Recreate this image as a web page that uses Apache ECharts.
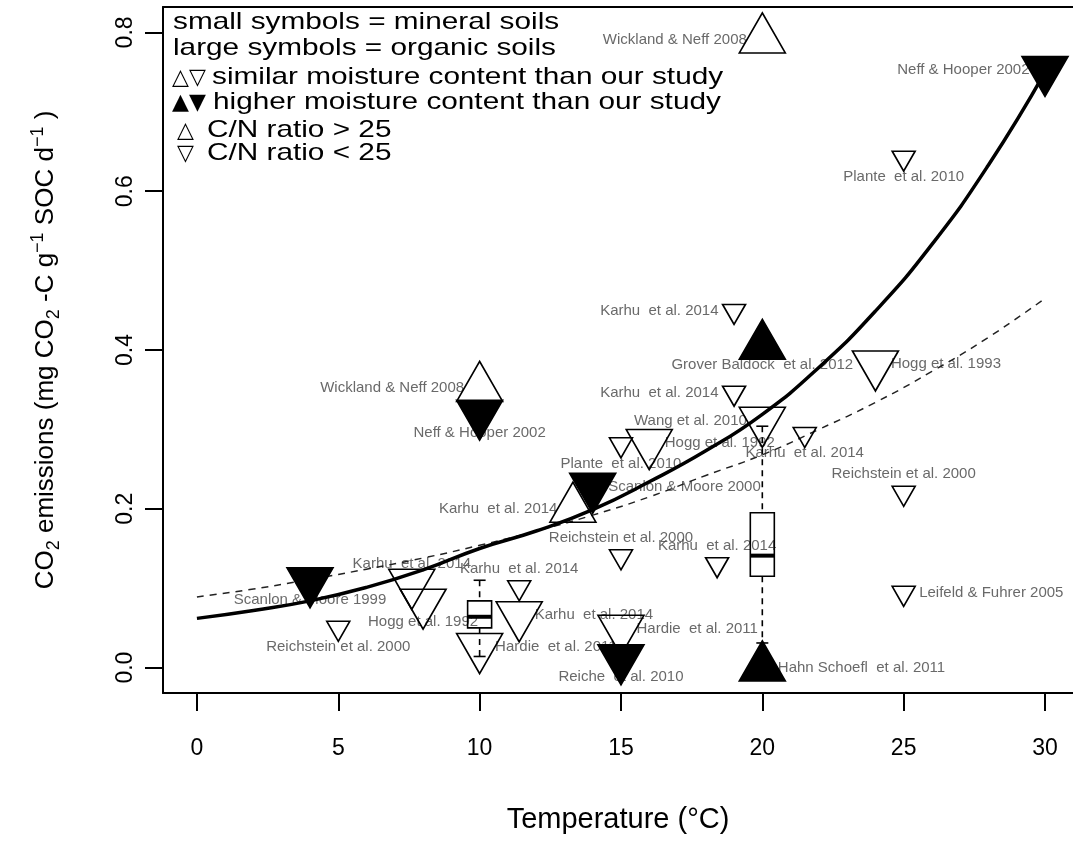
<!DOCTYPE html>
<html>
<head>
<meta charset="utf-8">
<script src="https://cdn.jsdelivr.net/npm/echarts@6/dist/echarts.min.js"></script>
<style>
  html, body { margin: 0; padding: 0; background: #fff; }
  #chart { width: 1073px; height: 843px; }
</style>
</head>
<body>
<div id="chart"></div>
<script>
// literature data: incubation temperature vs CO2 release per g SOC
const studyTemp = [20, 30, 25, 19, 20, 24, 10, 19, 10, 20, 16, 15, 21.5, 14, 13.3, 25, 15, 18.4, 11.4, 7.6, 4, 8, 5, 11.4, 10, 15, 15, 20, 25];
const studyRate = [0.791, 0.753, 0.642, 0.449, 0.405, 0.382, 0.352, 0.346, 0.320, 0.311, 0.283, 0.281, 0.294, 0.228, 0.200, 0.220, 0.140, 0.130, 0.101, 0.107, 0.109, 0.082, 0.050, 0.066, 0.026, 0.049, 0.012, 0.000, 0.094];
// 1 = organic soil (large symbol)
const organic   = [1, 1, 0, 0, 1, 1, 1, 0, 1, 1, 1, 0, 0, 1, 1, 0, 0, 0, 0, 1, 1, 1, 0, 1, 1, 1, 1, 1, 0];
// 1 = C/N > 25 (point up)
const cnAbove25 = [1, 0, 0, 0, 1, 0, 1, 0, 0, 0, 0, 0, 0, 0, 1, 0, 0, 0, 0, 0, 0, 0, 0, 0, 0, 0, 0, 1, 0];
// 1 = higher moisture than our study (filled)
const wetter    = [0, 1, 0, 0, 1, 0, 0, 0, 1, 0, 0, 0, 0, 1, 0, 0, 0, 0, 0, 0, 1, 0, 0, 0, 0, 0, 1, 1, 0];
const studyLabel = [
  "Wickland & Neff 2008", "Neff & Hooper 2002", "Plante  et al. 2010", "Karhu  et al. 2014",
  "Grover Baldock  et al. 2012", "Hogg et al. 1993", "Wickland & Neff 2008", "Karhu  et al. 2014",
  "Neff & Hooper 2002", "Wang et al. 2010", "Hogg et al. 1992", "Plante  et al. 2010",
  "Karhu  et al. 2014", "Scanlon & Moore 2000", "Karhu  et al. 2014", "Reichstein et al. 2000",
  "Reichstein et al. 2000", "Karhu  et al. 2014", "Karhu  et al. 2014", "Karhu  et al. 2014",
  "Scanlon & Moore 1999", "Hogg et al. 1992", "Reichstein et al. 2000", "Karhu  et al. 2014",
  "Hardie  et al. 2011", "Hardie  et al. 2011", "Reiche  et al. 2010", "Hahn Schoefl  et al. 2011",
  "Leifeld & Fuhrer 2005"
];
const labelSide = [
  'left', 'left', 'bottom', 'left', 'bottom', 'right', 'left', 'left', 'bottom', 'left',
  'right', 'bottom', 'bottom', 'right', 'left', 'top', 'top', 'top', 'top', 'top',
  'bottom', 'bottom', 'bottom', 'right', 'right', 'right', 'bottom', 'right', 'right'
];

// our own measurements at 10 and 20 °C: [min, q1, median, q3, max]
const boxTemp = [10, 20];
const boxStats = [
  [0.014, 0.050, 0.064, 0.084, 0.110],
  [0.031, 0.115, 0.141, 0.195, 0.304]
];

// fitted curves
const curveTemp = [0, 2, 4, 6, 8, 10, 12, 14, 16, 18, 20, 22, 24, 26, 28, 30];
const solidFit  = [0.062, 0.072, 0.084, 0.101, 0.123, 0.150, 0.172, 0.199, 0.234, 0.273, 0.319, 0.378, 0.449, 0.533, 0.633, 0.750];
const dashedFit = [0.089, 0.099, 0.111, 0.124, 0.138, 0.154, 0.172, 0.192, 0.215, 0.242, 0.268, 0.300, 0.334, 0.373, 0.416, 0.465];

const xTicks = [0, 5, 10, 15, 20, 25, 30];
const yTicks = [0, 0.2, 0.4, 0.6, 0.8];

const FONT = '"Liberation Sans", Arial, Helvetica, sans-serif';

const chart = echarts.init(document.getElementById('chart'), null, { renderer: 'canvas' });

const pointData = studyTemp.map((t, i) => {
  const big = organic[i] === 1;
  const up = cnAbove25[i] === 1;
  const w = big ? 46 : 23, h = big ? 40 : 20;
  return {
    value: [t, studyRate[i]],
    symbol: 'triangle',
    symbolSize: [w, h],
    symbolRotate: up ? 0 : 180,
    // R puts the point at the triangle centroid, not the bbox centre
    symbolOffset: [0, up ? -h / 6 : h / 6],
    itemStyle: {
      color: wetter[i] ? '#000' : 'rgba(0,0,0,0)',
      borderColor: '#000',
      borderWidth: 1.6,
      opacity: 1
    }
  };
});

const labelData = studyTemp.map((t, i) => {
  const side = labelSide[i];
  return {
    value: [t, studyRate[i]],
    label: { position: side, distance: (side === 'left' || side === 'right') ? 15 : 11 }
  };
});

function boxRender(params, api){
  const x = api.value(0);
  const pLo = api.coord([x, api.value(1)]);
  const pQ1 = api.coord([x, api.value(2)]);
  const pMd = api.coord([x, api.value(3)]);
  const pQ3 = api.coord([x, api.value(4)]);
  const pHi = api.coord([x, api.value(5)]);
  const cx = pMd[0], half = 12, cap = 6;
  const thin = { stroke: '#000', lineWidth: 1.6 };
  const dash = { stroke: '#000', lineWidth: 1.6, lineDash: [6, 5] };
  return {
    type: 'group',
    children: [
      { type: 'line', shape: { x1: cx, y1: pHi[1], x2: cx, y2: pQ3[1] }, style: dash },
      { type: 'line', shape: { x1: cx, y1: pQ1[1], x2: cx, y2: pLo[1] }, style: dash },
      { type: 'line', shape: { x1: cx - cap, y1: pHi[1], x2: cx + cap, y2: pHi[1] }, style: thin },
      { type: 'line', shape: { x1: cx - cap, y1: pLo[1], x2: cx + cap, y2: pLo[1] }, style: thin },
      { type: 'rect', shape: { x: cx - half, y: pQ3[1], width: half * 2, height: pQ1[1] - pQ3[1] },
        style: { fill: 'none', stroke: '#000', lineWidth: 1.6 } },
      { type: 'line', shape: { x1: cx - half, y1: pMd[1], x2: cx + half, y2: pMd[1] },
        style: { stroke: '#000', lineWidth: 4 } }
    ]
  };
}

// legend block as plain text (R legend with custom glyphs)
const legendLines = [
  { glyph: '', text: 'small symbols = mineral soils', y: 22, gx: 173, tx: 173 },
  { glyph: '', text: 'large symbols = organic soils', y: 48, gx: 173, tx: 173 },
  { glyph: '\u25B3\u25BD', text: 'similar moisture content than our study', y: 77, gx: 172, tx: 212 },
  { glyph: '\u25B2\u25BC', text: 'higher moisture content than our study', y: 102, gx: 172, tx: 213 },
  { glyph: '\u25B3', text: 'C/N ratio > 25', y: 130, gx: 177, tx: 207 },
  { glyph: '\u25BD', text: 'C/N ratio < 25', y: 153, gx: 177, tx: 207 }
];
const legendGraphics = [];
legendLines.forEach(l => {
  legendGraphics.push({
    type: 'text', x: l.tx, y: l.y, scaleX: 1.24, silent: true,
    style: { text: l.text, fontSize: 24, fontFamily: FONT, fill: '#000',
      align: 'left', verticalAlign: 'middle', textAlign: 'left', textVerticalAlign: 'middle' }
  });
  if (l.glyph) {
    legendGraphics.push({
      type: 'text', x: l.gx, y: l.y + 1, silent: true,
      style: { text: l.glyph, fontSize: 22, fontFamily: '"DejaVu Sans", sans-serif', fill: '#000',
        align: 'left', verticalAlign: 'middle', textAlign: 'left', textVerticalAlign: 'middle' }
    });
  }
});

const option = {
  backgroundColor: '#fff',
  animation: false,
  textStyle: { fontFamily: FONT, color: '#000' },
  // the R plot region runs a little past the right edge of the picture
  grid: { left: 163, top: 7, right: 0, bottom: 150 },
  xAxis: [{
    type: 'value', min: -1.2, max: 30.99,
    name: 'Temperature (°C)', nameLocation: 'middle', nameGap: 112,
    nameTextStyle: { fontSize: 29, fontFamily: FONT, color: '#000' },
    axisLine: { show: true, onZero: false, lineStyle: { color: '#000', width: 2 } },
    axisTick: { show: true, length: 18, customValues: xTicks, lineStyle: { color: '#000', width: 2 } },
    axisLabel: { customValues: xTicks, fontSize: 23, margin: 44, color: '#000', fontFamily: FONT },
    splitLine: { show: false }
  }, {
    type: 'value', position: 'top', min: -1.2, max: 30.99,
    axisLine: { show: true, onZero: false, lineStyle: { color: '#000', width: 2 } },
    axisTick: { show: false }, axisLabel: { show: false }, splitLine: { show: false }
  }],
  yAxis: {
    type: 'value', min: -0.032, max: 0.832,
    name: '{t|CO}{s|2}{t| emissions (mg CO}{s|2}{t| -C g}{p|\u22121}{t| SOC d}{p|\u22121}{t| )}',
    nameLocation: 'middle', nameRotate: 90, nameGap: 100,
    nameTextStyle: {
      fontFamily: FONT, color: '#000',
      rich: {
        t: { fontSize: 26, fontFamily: FONT, color: '#000', lineHeight: 34, verticalAlign: 'middle' },
        s: { fontSize: 18, fontFamily: FONT, color: '#000', lineHeight: 18, verticalAlign: 'bottom' },
        p: { fontSize: 18, fontFamily: FONT, color: '#000', lineHeight: 18, verticalAlign: 'top' }
      }
    },
    axisLine: { show: true, onZero: false, lineStyle: { color: '#000', width: 2 } },
    axisTick: { show: true, length: 18, customValues: yTicks, lineStyle: { color: '#000', width: 2 } },
    axisLabel: {
      customValues: yTicks, rotate: 90, fontSize: 23, margin: 26, color: '#000', fontFamily: FONT,
      formatter: v => v.toFixed(1)
    },
    splitLine: { show: false }
  },
  graphic: { elements: legendGraphics },
  series: [
    {
      name: 'labels', type: 'scatter', z: 1, silent: true,
      symbol: 'circle', symbolSize: 1, itemStyle: { color: 'rgba(0,0,0,0)' },
      label: {
        show: true, fontSize: 15, color: '#444', fontFamily: FONT,
        formatter: p => studyLabel[p.dataIndex]
      },
      data: labelData
    },
    {
      name: 'our study', type: 'custom', z: 2, silent: true,
      renderItem: boxRender,
      encode: { x: 0, y: [1, 2, 3, 4, 5] },
      data: boxTemp.map((t, i) => [t, ...boxStats[i]])
    },
    {
      name: 'fit dashed', type: 'line', z: 3, silent: true, showSymbol: false, smooth: 0.5,
      lineStyle: { color: '#222', width: 1.5, type: [7, 6] },
      data: curveTemp.map((t, i) => [t, dashedFit[i]])
    },
    {
      name: 'fit solid', type: 'line', z: 3, silent: true, showSymbol: false, smooth: 0.5,
      lineStyle: { color: '#000', width: 3.5 },
      data: curveTemp.map((t, i) => [t, solidFit[i]])
    },
    {
      name: 'studies', type: 'scatter', z: 4, silent: true,
      data: pointData
    }
  ]
};

chart.setOption(option);
</script>
</body>
</html>
